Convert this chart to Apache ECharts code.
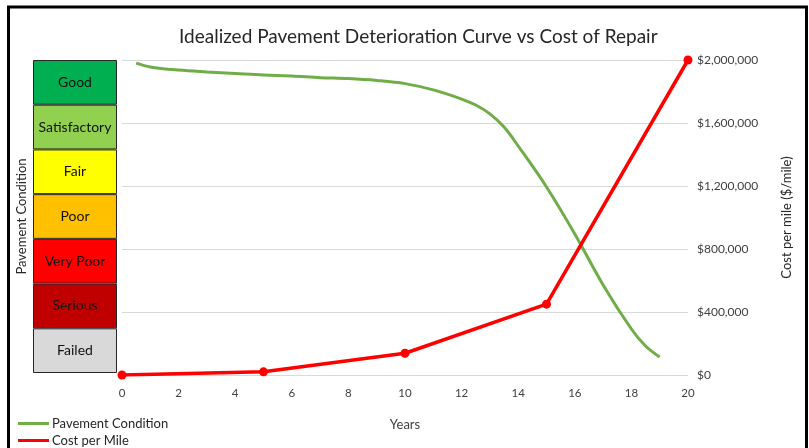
<!DOCTYPE html>
<html><head><meta charset="utf-8">
<script src="https://cdn.jsdelivr.net/npm/echarts@6/dist/echarts.min.js"></script>
<style>html,body{margin:0;padding:0;background:#fff}#c{width:809px;height:448px}</style>
</head><body><div id="c"></div>
<script>
const years = [0.5,1,2,3,4,5,6,7,8,9,10,11,12,12.5,13,13.5,14,15,16,17,18,18.5,19];
const conditionValues = [99.0,97.8,96.8,96.2,95.7,95.2,94.9,94.4,94.1,93.5,92.5,90.5,87.6,85.7,82.9,78.7,72.7,59.7,44.8,28.6,14.6,9.2,5.7];
const costYears = [0,5,10,15,20];
const costValues = [0,20000,138000,450000,2000000];
const bands = ['Good','Satisfactory','Fair','Poor','Very Poor','Serious','Failed'];
const bandColors = ['#00B050','#92D050','#FFFF00','#FFC000','#FF0000','#C00000','#D9D9D9'];
const costTicks = [0,400000,800000,1200000,1600000,2000000];

const FONT = 'Lato';
const chart = echarts.init(document.getElementById('c'));
const fmt = v => '$' + v.toLocaleString('en-US');
chart.setOption({
  animation:false,
  textStyle:{fontFamily:FONT},
  title:{text:'Idealized Pavement Deterioration Curve vs Cost of Repair',left:174,top:22,
    textStyle:{fontFamily:FONT,fontSize:19,fontWeight:'normal',color:'#262626'}},
  legend:{orient:'vertical',left:13,top:412,height:80,itemGap:4,itemWidth:31,itemHeight:3,
    icon:'rect',textStyle:{fontFamily:FONT,fontSize:13,color:'#262626',padding:[0,0,0,-2]},
    data:['Pavement Condition','Cost per Mile']},
  grid:[
    {left:122,right:121,top:60,bottom:73},
    {left:33,width:84,top:60,bottom:75}
  ],
  xAxis:[
    {gridIndex:0,type:'value',min:0,max:20,interval:2,name:'Years',nameLocation:'middle',nameGap:43,
      nameTextStyle:{fontFamily:FONT,fontSize:13,color:'#404040'},
      axisLine:{show:false},axisTick:{show:false},splitLine:{show:false},
      axisLabel:{fontFamily:FONT,fontSize:11.5,color:'#404040',margin:12}},
    {gridIndex:1,type:'value',min:0,max:1,show:false}
  ],
  yAxis:[
    {gridIndex:0,type:'value',min:0,max:100,show:false},
    {gridIndex:0,type:'value',position:'right',min:0,max:2000000,interval:400000,
      name:'Cost per mile ($/mile)',nameLocation:'middle',nameGap:92,nameRotate:90,
      nameTextStyle:{fontFamily:FONT,fontSize:13,color:'#262626'},
      axisLine:{show:false},axisTick:{show:false},
      splitLine:{lineStyle:{color:'#D9D9D9',width:1}},
      axisLabel:{fontFamily:FONT,fontSize:12,color:'#404040',margin:9,formatter:fmt}},
    {gridIndex:1,type:'category',data:bands,inverse:true,
      name:'Pavement Condition',nameLocation:'middle',nameGap:5,nameRotate:90,
      nameTextStyle:{fontFamily:FONT,fontSize:13,color:'#262626'},
      axisLine:{show:false},axisTick:{show:false},axisLabel:{show:false}}
  ],
  series:[
    {name:'Bands',type:'bar',xAxisIndex:1,yAxisIndex:2,barWidth:'100%',silent:true,
      data:bands.map((b,i)=>({value:1,itemStyle:{color:bandColors[i],borderColor:'#262626',borderWidth:1}})),
      label:{show:true,position:'inside',formatter:p=>p.name,fontFamily:FONT,fontSize:14,color:'#111'}},
    {name:'Pavement Condition',type:'line',xAxisIndex:0,yAxisIndex:0,smooth:0.35,showSymbol:false,
      data:years.map((y,i)=>[y,conditionValues[i]]),
      lineStyle:{color:'#70AD47',width:3},itemStyle:{color:'#70AD47'}},
    {name:'Cost per Mile',type:'line',xAxisIndex:0,yAxisIndex:1,symbol:'circle',symbolSize:9,
      data:costYears.map((y,i)=>[y,costValues[i]]),
      lineStyle:{color:'#FF0000',width:3.5},itemStyle:{color:'#FF0000'}}
  ],
  graphic:[{type:'rect',shape:{x:8.5,y:7,width:798,height:500},style:{fill:'none',stroke:'#000',lineWidth:3}}]
});
</script></body></html>
